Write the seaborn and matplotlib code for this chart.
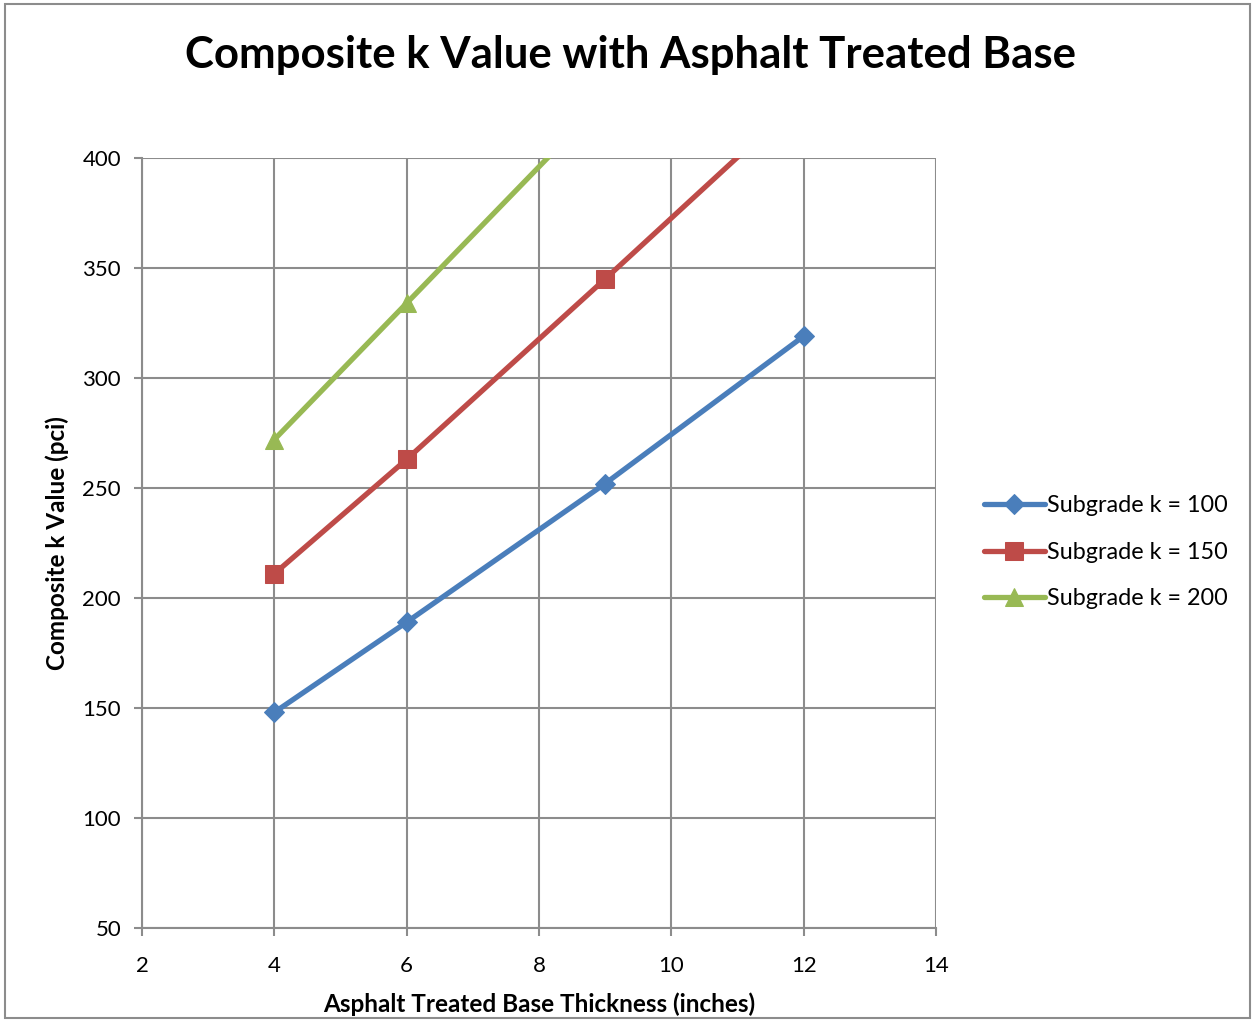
import matplotlib
matplotlib.use("Agg")
import matplotlib.pyplot as plt
from matplotlib.patches import Rectangle
import seaborn as sns
import pandas as pd

# ATB thickness (inches) and composite k values (pci) for each subgrade k
thick_100 = [4, 6, 9, 12]
k_100 = [148, 189, 252, 319]
thick_150 = [4, 6, 9, 12]
k_150 = [211, 263, 345, 428]
thick_200 = [4, 6, 9]
k_200 = [272, 334, 427]

series_names = ["Subgrade k = 100", "Subgrade k = 150", "Subgrade k = 200"]
colors = ["#4A7EBB", "#BE4B48", "#98B954"]
markers = ["D", "s", "^"]
marker_sizes = [10, 13, 13]

x_ticks = [2, 4, 6, 8, 10, 12, 14]
y_ticks = [50, 100, 150, 200, 250, 300, 350, 400]

sns.set_style("white")
plt.rcParams["font.family"] = ["Lato", "DejaVu Sans"]
plt.rcParams["text.color"] = "black"
plt.rcParams["axes.labelcolor"] = "black"
plt.rcParams["xtick.color"] = "black"
plt.rcParams["ytick.color"] = "black"

fig = plt.figure(figsize=(12.55, 10.22), dpi=100)
ax = fig.add_axes([0.1131, 0.0920, 0.6327, 0.7534])

frames = []
for name, xs, ys in [(series_names[0], thick_100, k_100),
                     (series_names[1], thick_150, k_150),
                     (series_names[2], thick_200, k_200)]:
    frames.append(pd.DataFrame({"thickness": xs, "k": ys, "series": name}))
df = pd.concat(frames, ignore_index=True)

for name, col, mk, ms in zip(series_names, colors, markers, marker_sizes):
    sub = df[df["series"] == name]
    sns.lineplot(data=sub, x="thickness", y="k", ax=ax, color=col,
                 linewidth=3.8, marker=mk, markersize=ms,
                 markeredgecolor=col, label=name, zorder=3)

ax.set_xlim(2, 14)
ax.set_ylim(50, 400)
ax.set_xticks(x_ticks)
ax.set_yticks(y_ticks)
ax.grid(True, color="#8C8C8C", linewidth=1.5)
ax.set_axisbelow(True)
for side in ["top", "right"]:
    ax.spines[side].set_visible(False)
for side in ["left", "bottom"]:
    ax.spines[side].set_color("#8C8C8C")
    ax.spines[side].set_linewidth(1.5)
ax.tick_params(axis="both", which="major", labelsize=16, length=6,
               width=1.5, color="#8C8C8C", direction="out",
               labelcolor="black")
ax.tick_params(axis="x", pad=14)
ax.tick_params(axis="y", pad=9)
ax.tick_params(axis="both", left=True, bottom=True)

ax.set_xlabel("Asphalt Treated Base Thickness (inches)", fontsize=17.5,
              fontweight="bold", labelpad=12)
ax.set_ylabel("Composite k Value (pci)", fontsize=17.5, fontweight="bold",
              labelpad=10)

fig.suptitle("Composite k Value with Asphalt Treated Base", fontsize=31.5,
             fontweight="bold", x=0.502, y=0.966, color="black")

leg = ax.legend(loc="center left", bbox_to_anchor=(1.034, 0.488),
                frameon=False, fontsize=16.8, handlelength=2.6,
                handletextpad=0.1, labelspacing=1.1)

fig.patches.append(Rectangle((0.004, 0.004), 0.992, 0.992,
                             transform=fig.transFigure, fill=False,
                             edgecolor="#8C8C8C", linewidth=1.5))

fig.savefig("out.png", dpi=100, facecolor="white")
